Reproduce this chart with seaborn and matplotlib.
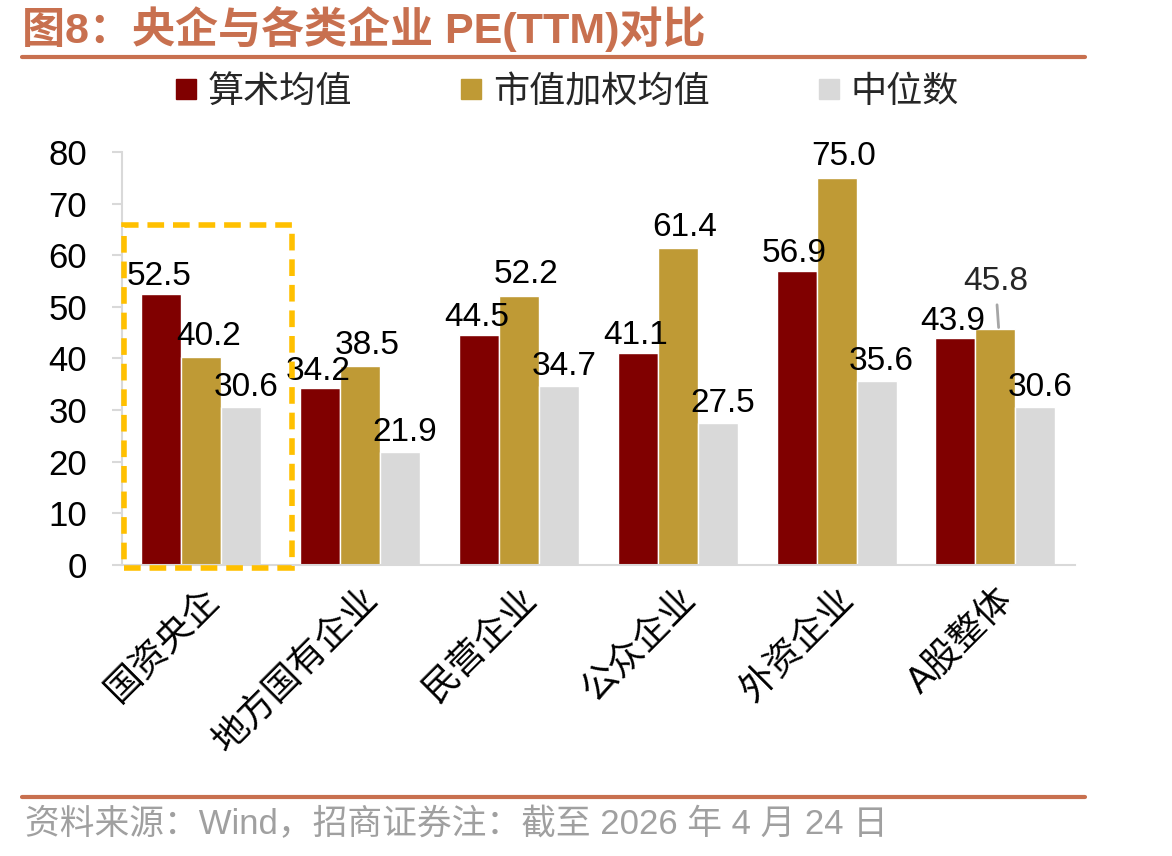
import pandas as pd
import seaborn as sns
import matplotlib.pyplot as plt
from matplotlib.patches import Rectangle
from matplotlib.lines import Line2D

# chart data
categories = ['国资央企', '地方国有企业', '民营企业', '公众企业', '外资企业', 'A股整体']
series_names = ['算术均值', '市值加权均值', '中位数']
arith_mean = [52.5, 34.2, 44.5, 41.1, 56.9, 43.9]
weighted_mean = [40.2, 38.5, 52.2, 61.4, 75.0, 45.8]
median = [30.6, 21.9, 34.7, 27.5, 35.6, 30.6]
colors = ['#800000', '#BF9A35', '#D9D9D9']

df = pd.DataFrame({
    'cat': categories * 3,
    'series': [s for s in series_names for _ in categories],
    'value': arith_mean + weighted_mean + median,
})

sns.set_theme(style='white')
plt.rcParams['font.family'] = ['Liberation Sans', 'Noto Sans CJK SC']

fig = plt.figure(figsize=(11.72, 8.56), dpi=100)
ax = fig.add_axes([0.1041, 0.340, 0.813, 0.4824])

sns.barplot(data=df, x='cat', y='value', hue='series', order=categories,
            hue_order=series_names, palette=colors, width=0.756,
            saturation=1, ax=ax, legend=False)

ax.set_ylim(0, 80)
ax.set_xlim(-0.5, len(categories) - 0.5)
ax.set_yticks(range(0, 81, 10))
ax.set_xlabel('')
ax.set_ylabel('')
ax.tick_params(axis='y', labelsize=25, length=7, width=1.5, color='#D9D9D9',
               pad=18, left=True, labelcolor='black')
ax.tick_params(axis='x', length=0, pad=12, labelcolor='black')
ax.set_xticks(range(len(categories)))
ax.set_xticklabels(categories, rotation=45, ha='right', rotation_mode='anchor',
                   fontsize=26)
for side in ['top', 'right']:
    ax.spines[side].set_visible(False)
for side in ['left', 'bottom']:
    ax.spines[side].set_color('#D9D9D9')
    ax.spines[side].set_linewidth(1.5)

# value labels (small per-series nudges like the original)
label_dx = [-0.015, 0.045, 0.03]
label_dy = [1.7, 2.4, 2.1]
for i, container in enumerate(ax.containers):
    for patch in container:
        h = patch.get_height()
        x = patch.get_x() + patch.get_width() / 2
        if abs(h - 45.8) < 1e-6:
            ax.annotate(f'{h:.1f}', xy=(x + 0.02, h + 0.2), xytext=(x, h + 7.4),
                        ha='center', va='baseline', fontsize=24,
                        arrowprops=dict(arrowstyle='-', color='#A6A6A6', lw=2,
                                        shrinkA=3, shrinkB=0))
        else:
            ax.text(x + label_dx[i], h + label_dy[i], f'{h:.1f}', ha='center',
                    va='baseline', fontsize=24, color='black')

# dashed highlight box around the first group
box = Rectangle((-0.487, -0.6), 1.057, 66.5, fill=False, edgecolor='#FFC000',
                linewidth=4, linestyle=(0, (3, 1.6)), clip_on=False, zorder=5)
ax.add_patch(box)

# legend
handles = [Line2D([0], [0], marker='s', linestyle='', markersize=15,
                  markerfacecolor=c, markeredgecolor=c) for c in colors]
fig.legend(handles, series_names, loc='center', bbox_to_anchor=(0.482, 0.892),
           ncol=3, frameon=False, fontsize=26, handletextpad=0.2,
           columnspacing=2.9, handlelength=0.8)

# title, rules and footer
title_color = '#C8704F'
fig.text(0.019, 0.966, '图8：央企与各类企业 PE(TTM)对比', fontsize=31,
         fontweight='bold', color=title_color, va='center', ha='left')
fig.add_artist(Line2D([0.019, 0.926], [0.933, 0.933], color=title_color,
                      linewidth=3, transform=fig.transFigure))
fig.add_artist(Line2D([0.019, 0.926], [0.069, 0.069], color=title_color,
                      linewidth=3, transform=fig.transFigure))
fig.text(0.021, 0.037, '资料来源：Wind，招商证券注：截至 2026 年 4 月 24 日',
         fontsize=25, color='#A0A0A0', va='center', ha='left')

fig.savefig('out.png', dpi=100)
